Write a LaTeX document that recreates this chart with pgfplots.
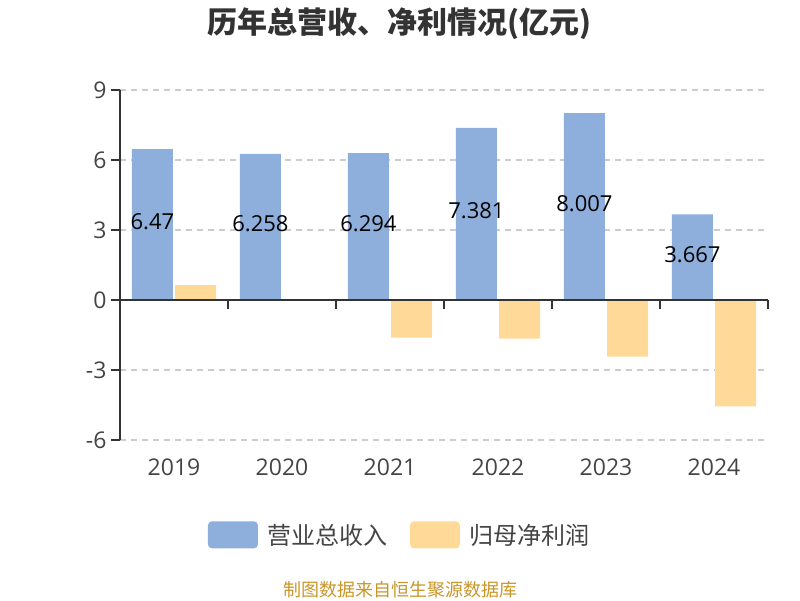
\documentclass[border=0pt]{standalone}
\usepackage{pgfplots}
\pgfplotsset{compat=1.18}
\usepackage{fontspec}
\setmainfont{Open Sans}
\newfontfamily\cjk{Noto Sans CJK SC}
\definecolor{rev}{RGB}{142,174,219}
\definecolor{np}{RGB}{255,217,152}
\definecolor{axc}{RGB}{51,51,51}
\definecolor{tickc}{RGB}{68,68,68}
\definecolor{gridc}{RGB}{204,204,204}
\definecolor{foot}{RGB}{200,150,40}
\begin{document}
\begin{tikzpicture}[x=1pt,y=1pt]
\begin{axis}[at={(120pt,160pt)}, anchor=south west, scale only axis,
  width=648pt, height=350pt,
  xmin=-0.5, xmax=5.5, ymin=-6, ymax=9,
  axis y line=left, axis x line=bottom,
  x axis line style={draw=none},
  y axis line style={-, axc, line width=1.3pt},
  ytick={-6,-3,0,3,6,9},
  xtick={0,1,2,3,4,5},
  xticklabels={2019,2020,2021,2022,2023,2024},
  major x tick style={draw=none},
  major y tick style={axc, line width=1.3pt},
  tick align=outside,
  major tick length=9pt,
  ymajorgrids,
  grid style={gridc, dash pattern=on 6pt off 5pt, line width=1.3pt},
  /pgf/number format/assume math mode=true,
  tick label style={font=\fontsize{23}{25}\selectfont, text=tickc},
  xticklabel style={yshift=-6pt},
  yticklabel style={xshift=-1pt},
  clip=false,
  legend style={at={(0.432,-0.271)}, anchor=center, draw=none, fill=none,
    legend columns=2, font=\cjk\fontsize{24}{26}\selectfont, text=tickc,
    /tikz/every odd column/.append style={column sep=8pt},
    /tikz/every even column/.append style={column sep=20pt},
    legend cell align=left},
]
\addplot[ybar, bar width=0.38, bar shift=-0.2, fill=rev, draw=none,
  legend image code/.code={\fill[rev, rounded corners=4pt] (0pt,-13.5pt) rectangle (50pt,13.5pt);},
  nodes near coords={\pgfmathprintnumber[fixed,precision=3,assume math mode=true]{\pgfplotspointmeta}},
  visualization depends on={rawy \as \rawy},
  every node near coord/.append style={anchor=center, black,
    font=\fontsize{22}{24}\selectfont, yshift=3pt,
    shift={(axis direction cs:-0.2,-\rawy/2)}}]
  coordinates {(0,6.47) (1,6.258) (2,6.294) (3,7.381) (4,8.007) (5,3.667)};
\addlegendentry{营业总收入}
\addplot[ybar, bar width=0.38, bar shift=0.2, fill=np, draw=none,
  legend image code/.code={\fill[np, rounded corners=4pt] (0pt,-13.5pt) rectangle (50pt,13.5pt);}]
  coordinates {(0,0.64) (1,0.02) (2,-1.61) (3,-1.66) (4,-2.43) (5,-4.56)};
\addlegendentry{归母净利润}
\draw[axc, line width=1.5pt] (axis cs:-0.5,0) -- (axis cs:5.5,0);
\pgfplotsinvokeforeach{0.5,1.5,2.5,3.5,4.5,5.5}{
  \draw[axc, line width=1.3pt] (axis cs:#1,0) -- ([yshift=-9pt]axis cs:#1,0);
}
\end{axis}
\node[font=\cjk\bfseries\fontsize{30}{32}\selectfont, text=axc] at (399pt,576pt) {历年总营收、净利情况(亿元)};
\node[font=\cjk\fontsize{18}{20}\selectfont, text=foot] at (400pt,10pt) {制图数据来自恒生聚源数据库};
\pgfresetboundingbox
\useasboundingbox (0pt,0pt) rectangle (800pt,600pt);
\end{tikzpicture}
\end{document}
